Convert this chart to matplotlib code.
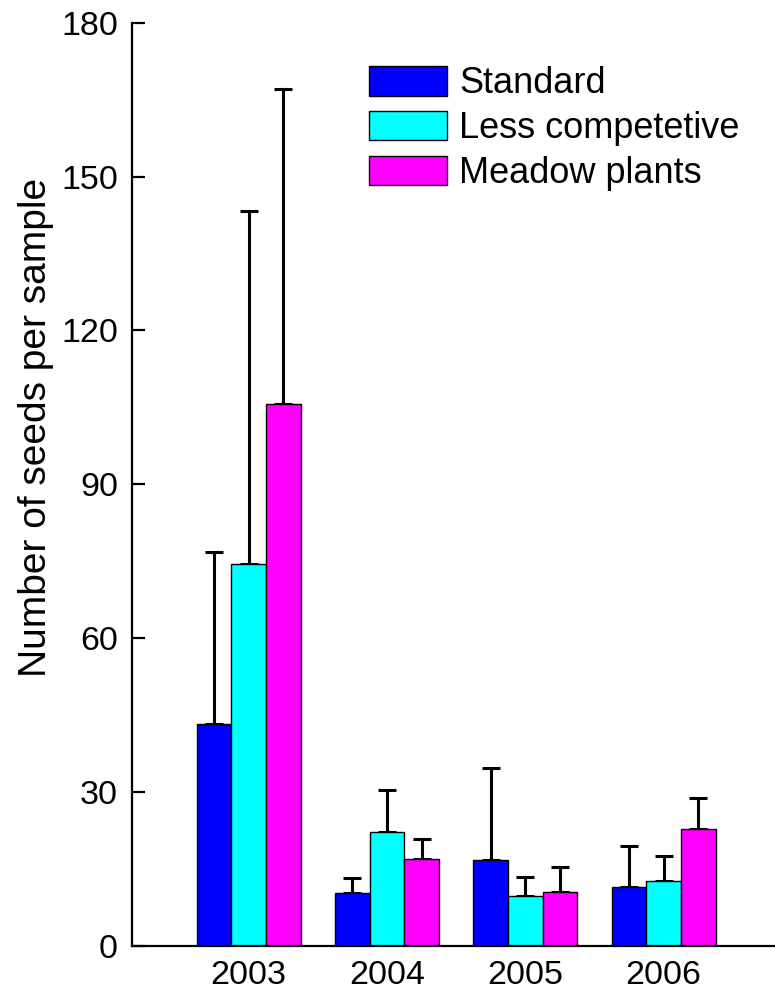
import matplotlib
matplotlib.use("Agg")
import matplotlib.pyplot as plt
import numpy as np

years = ["2003", "2004", "2005", "2006"]
series_names = ["Standard", "Less competetive", "Meadow plants"]
standard = [43.3, 10.3, 16.7, 11.4]
standard_err = [33.5, 3.0, 18.0, 8.0]
less_comp = [74.5, 22.2, 9.6, 12.7]
less_comp_err = [68.8, 8.2, 3.8, 4.7]
meadow = [105.6, 17.0, 10.5, 22.7]
meadow_err = [61.5, 3.8, 4.9, 6.1]
yticks = [0, 30, 60, 90, 120, 150, 180]
colors = ["#0000FF", "#00FFFF", "#FF00FF"]

plt.rcParams['font.family'] = ['Liberation Sans', 'DejaVu Sans']

W, H = 775, 991
fig = plt.figure(figsize=(W / 100, H / 100), dpi=100)
ax = fig.add_axes([132 / W, 1 - 945.7 / H, 1 - 132 / W, (945.7 - 22.7) / H])

x = np.arange(len(years))
bw = 0.2507
data = [(standard, standard_err), (less_comp, less_comp_err), (meadow, meadow_err)]
handles = []
for i, ((vals, errs), c, name) in enumerate(zip(data, colors, series_names)):
    pos = x + (i - 1) * bw
    b = ax.bar(pos, vals, width=bw, color=c, edgecolor='black', linewidth=1.0, label=name, zorder=2)
    handles.append(b)
    ax.errorbar(pos, vals, yerr=[np.zeros(len(vals)), errs], fmt='none', ecolor='black',
                elinewidth=2.2, capsize=6.5, capthick=2.2, zorder=1)

ax.set_ylim(0, 180)
ax.set_xlim(-0.844, 3.805)
ax.set_yticks(yticks)
ax.set_yticklabels([str(t) for t in yticks])
ax.set_xticks(x)
ax.set_xticklabels(years)

for s in ['top', 'right']:
    ax.spines[s].set_visible(False)
for s in ['left', 'bottom']:
    ax.spines[s].set_linewidth(1.6)

ax.tick_params(axis='y', direction='in', length=9, width=1.6, labelsize=24.5, pad=10)
ax.tick_params(axis='x', length=0, labelsize=24.5, pad=10)

fig.text(36 / W, 1 - 427.5 / H, "Number of seeds per sample", rotation=90,
         ha='center', va='center', fontsize=28)

leg = ax.legend(handles=handles, labels=series_names, loc='upper left',
                bbox_to_anchor=(369 / W, 1 - 66 / H), bbox_transform=fig.transFigure,
                frameon=False, fontsize=26, handlelength=2.16, handleheight=0.88,
                labelspacing=0.27, handletextpad=0.33, borderpad=0, borderaxespad=0)

fig.savefig("out.png", dpi=100)
